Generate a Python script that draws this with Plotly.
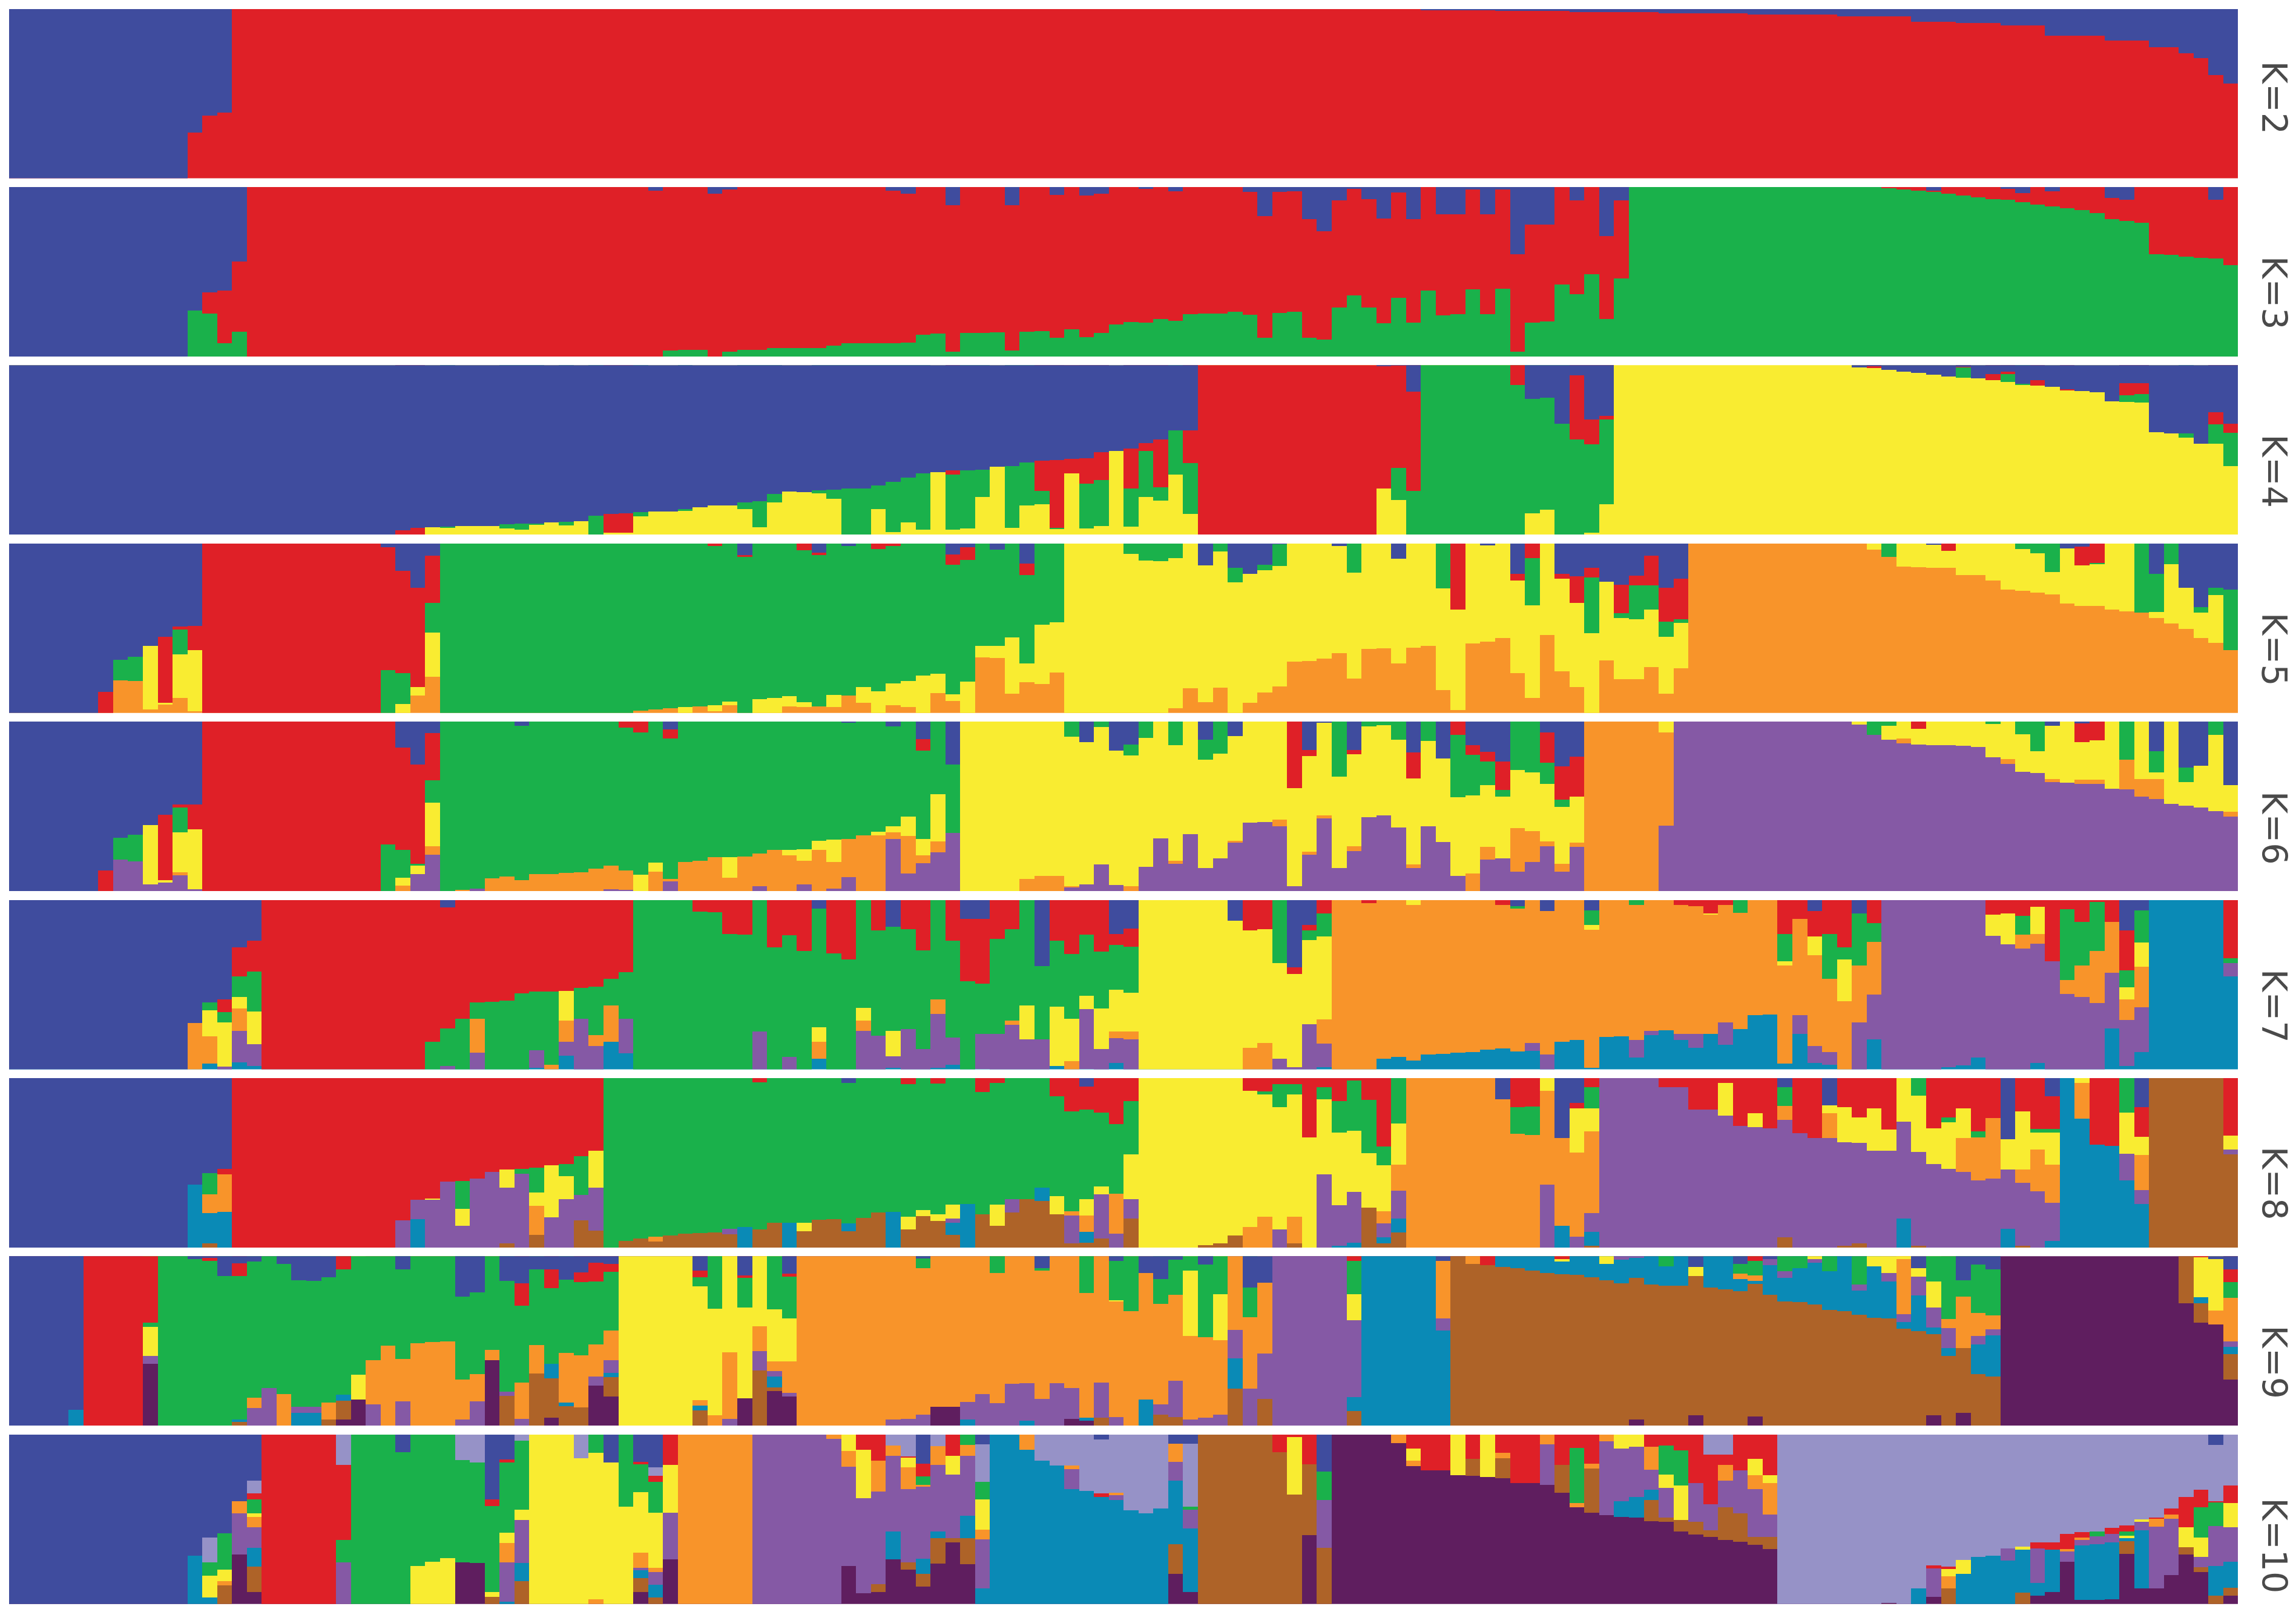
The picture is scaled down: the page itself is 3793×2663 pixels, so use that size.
import plotly.graph_objects as go

# Each list: lower edge of that colour band in each of 150 columns, in percent of the
# panel height measured from the panel's top (0 = colour absent from that column).
COLORS = {"blue": "#3F4C9E", "lav": "#9692C7", "red": "#DF2027", "green": "#1AB14B", "yellow": "#F9EC31",
          "orange": "#F8942A", "purple": "#8559A5", "teal": "#0A8AB6", "brown": "#AE6328", "dark": "#5F1E5F"}

K2_blue = [100]*12+[73,63,61]+[0]*80+[.4]*5+[1]*5+[1.8]*6+[2.6]*6+[3.3]*6+[4.3]*5+[7.5]*3+[8.2]*3+[9.5]*3+[15.8]*4+[18.5]*3+[22.5]*2+[26,29,39,44]
K2_red = [100]*150

K3_blue = [100]*12+[73,62,61,44]+[0]*27+[2]+[0]*3+[4,1.6]+[0]*10+[2,4,0,0,10.7]+[0]*3+[10.7,0,0,4.6,0,5,4,0,0,1,0,2.5]+[0]*4+[3,17,3,2.5,19,26,8,1,7,18.5,3.3,19,0,16,16,1.4,16,1.4,39.6,22,22,0,8,0,28.8,8]+[0]*20+[2.3]+[0]*4+[1,3.5,0,2.5]+[0]*3+[6.4,7.4]+[0]*5+[7.4,0]
K3_red = [0]*13+[74.5,92.3,85.4]+[100]*28+[96.6,96,96,100,97.3,96,96,95,95,95,95,93.5,92.3,92.3,92.3,92.3,91.7,87,86.3,97,86.2,86.2,85.8,96.3,85.4,85,88.8,83.8,88.7,86.2,81,79.5,80,78,79,75,74.5,74.5,73.5,75.5,89,74.3,73.5,89,90,71,64,71,80.5,65.5,80,61,75.6,75,60.5,75,60,97.3,80,79.3,57.5,63.3,51.3,77.7,54]+[0]*17+[.5,1.5,2,3,4,5,6,7,7.5,8.8,10.4,11.3,12.6,13.7,15.3,19,20,21,39.5,40,41,41.8,42,46]
K3_green = [100]*150

K4_blue = [100]*26+[97.5,96,95.8,95.4,95,95,95,94,93.7,93.4,93,92.6,92,89,87.7,87.4,86.7,86.3,86.3,85,84,83,83,81,80.5,76,74.6,75,73.8,73.5,73,73,71,69,66.4,64,63.2,62,62,61.7,60,59.6,57.6,56.4,56,55.5,55,51.4,50.7,49.3,46,44,38.5,38.5]+[0]*12+[.5,.3,15.8]+[0]*7+[20,19.4,34.6,6,32,30]+[0]*16+[1.5,.5,3,3.8,4.6,5.6,6.8,1,8,5.3,4,11,9,13,14.2,15.3,16,21.6,10.7,10.7,39.5,40.4,40.4,46.6,28,34.7]
K4_red = [0]*26+[100,100]+[0]*12+[99,98.8]+[0]*21+[64.6]+[0]*5+[74.3,96,64,70,68,0,72.8,50.7,72,0,58]+[100]*12+[73,60.6,74.3]+[0]*6+[11.7,0,0,0,44,46.7,32]+[0]*17+[1.8]+[0]*5+[1.3,0,9,5.5,0,12,0,14.9,0,0,0,18,17,0,0,0,0,35,40]
K4_green = [0]*29+[96,0,0,0,96.5,97,94.4,0,94.6,0,100,0,0,89.2,0,0,86,0,0,0,85,95.8,81,0,0,75.7,79,100,100,85,98.5,93,97,0,97,96.6,78,0,96,82.8,82,96.7,0,96.5,95,0,95.5,78,80,64.6,88]+[0]*13+[79.6]+[100]*8+[87.6,85.5,100,100,99,82]+[0]*23+[7.4,0,0,10,11.7]+[0]*6+[21.7,22,0,0,43,0,46.6,59.6]
K4_yellow = [100]*150

K5_blue = [100]*6+[87.6,68.6,66.8,60.4,55,49,48.5]+[0]*12+[2,16,26,7]+[0]*20+[6.8]+[0]*4+[5.3,0,1.6]+[0]*6+[6.4,2.3,0,3.4,0,11.9]+[0]*11+[12.8,0,14.3,17.8,12.6,.2,0,0,0,1.4,0,0,0,8.9]+[0]*5+[1.2,0,18,0,0,18,19.4,14.2,22.4,24.2,19,7,26.2,20.8]+[0]*16+[.7]+[0]*8+[3,1.8,0,0,0,0,17.9,0,26,37.6,26.2,27]
K5_red = [0]*6+[100,0,0,0,93.9,50.8,63]+[100]*12+[74.7,76.4,84.6,35]+[0]*18+[1.6,0,7.8,0,0,0,4,6.7,0,0,0,3.1,1.4,0,0,0,12.6,9.6,0,0,0,18.7]+[0]*28+[39,0,0,0,21.9,8.5,0,20.8,35,20,0,41,24.6,24.6,46,44.7]+[0]*17+[4.4]+[0]*8+[12.8,11.6]+[0]*9
K5_green = [0]*7+[80.6,81,0,0,65.4,0]+[0]*12+[100,94.8,0,52.6]+[100]*13+[98.5,98,97.3,96.3,96.2,95.2,93.2,100,91.8,91,90,93.4,96,89.2,89.8,84.8,87,82.5,81,78,76.7,88.8,81.6,60.4,60.5,55.3,70.6,48,46.4,0,0,0,0,6,10,10.2,8.6,0,0,4.8,23,0,15.6,13.2,0,0,0,0,17,0,0,0,0,0,26.5,0,0,0,0,0,36.5,0,0,0,52.9,0,44,44.7,39,55,46.7]+[0]*13+[8]+[0]*8+[3.1,5.7,16.7,0,13,12,0,0,40.6,40.4,12,0,40.6,30.2,62.7]
K5_yellow = [0]*9+[98,95,91,98.8]+[0]*13+[100,89.5,78.5]+[0]*16+[100,0,99,95.5,0,100,100,96,96.5,0,96.3,0,93.8,100,95.5,96.3,100,88.2,92.9,100,67.3,67.6,88.4,81.8,83,76,100,100,100,100,100,100,100,97,85.4,93.4,85,100,94,87.8,84.3,69.8,69.4,68,64.5,79.6,62,61.9,70.6,61.6,60.4,86.3,98.2,58.8,57.8,55.6,76.6,91,54,75.4,84.8,100,69,80,80,73,88.7,73.6]+[0]*12+[3.7,0,13.5,13.9,14.3,14.3,18.5,18.5,21.9,27.3,28,29,30,35.5,36.7,36.7,39,40,0,44,47,50.4,55.8,58.6,0]
K5_orange = [100]*150

K6_blue = [100]*6+[87.7,68.5,66.9,61,55,49,48.8]+[0]*13+[15.3,25.4,6.7]+[0]*5+[2.6]+[0]*9+[4.5]+[0]*11+[.5,0,0,2.9,0,10.5,0,25.4]+[0]*8+[12.2,0,17,13.5,0,0,0,0,10.8,0,8.5,0,0,0,0,16.7,.8,0,16.7,0,0,0,18.3,0,21.8,0,13.8,17.9,23.7,0,0,6.4,26.3,20.7]+[0]*31+[2.6,0,1.2,0,0,0,0,17.6,0,27,25.9,0,37.5]
K6_red = [0]*6+[100,0,0,0,93.7,50.7,63.5]+[100]*12+[72.4,75.8,84,34.7]+[0]*12+[3.6,6.4,0,10]+[0]*16+[17]+[0]*24+[39.3,20.4,0,0,19.3,0,0,0,33.7,0,0,8,19.7,23.5,40.2,0,0,24.4,46,44.3]+[0]*22+[4.4]+[0]*10+[12.2,11.2]+[0]*9
K6_green = [0]*7+[81.5,82.4,0,0,65.5,0]+[0]*12+[100,92,85,48,100,99.3,98.6,92.6,91.6,93.6,90,90,89.4,88.8,86.9,85,88,90.4,83.3,93,82.8,82,80,80,79.6,78,75.8,75.8,75.4,70.3,69.6,69.4,67,65,61.8,56.2,69.4,43,65.8]+[0]*7+[9,0,3.3,0,20,9.8,0,13.8,0,22.4,19]+[0]*7+[32.4,0,2.9,2,10.8,0,11.5,0,44.5,43.4,37.6,44.3,28.6,30,36.8,50.2,0]+[0]*19+[8,2.6]+[0]*6+[1.6,0,7.4,17.6]+[0]*5+[22.4,0,30,0,35.7,0,7.8,0]
K6_yellow = [0]*9+[96,95,89,99]+[0]*13+[96.7,90,73.5]+[0]*13+[100,88.5,0,0,0,0,92.2,0,0,0,78.8,82.2,75.8,82.9,0,0,67,65.5,67.6,79,70.7,0,100,100,100,100,92.9,91,91,97,96,84.3,96.3,97,85.6,69,82.2,66.6,86.3,80.8,70.3,59.6,59.4,58,97,76.7,55.4,86.6,73.5,56.5,55.5,62.4,84.3,61.8,71,91,89.5,74,80.6,63,64.6,70.7,84,71.3]+[0]*5+[6.3]+[0]*12+[1.9,0,10.8,10,13.5,13.8,13.8,14.4,15,21,22,29.7,30.4,33.8,36,34.3,34.3,39.8,0,34,34,48.4,49.8,50.8,53,53.2]
K6_orange = [0]*11+[90.8]+[0]*14+[100,0,78.5,0,100,0]+[100]*8+[98.8,99.3,0,100,94.4,100,100,100,100,100,97,100,100,96,100,98.4,91.7,100,100,69.3,89.6,83.7,77,0,0,0,0,0,100,100,100,98,0,0,0,100,0,0,83.9,0,0,0,71.3,0,0,61.7,0,78.5,57.2,0,76.6,0,0,0,86.3,0,0,0,100,81.3,0,88.5,82.9,73.7,88.5,74,100,100,100,100,100,61.5]+[0]*15+[13]+[0]*6+[25,0,0,35.8,0,36.8,36.8,0,40,44.3,45.7,0,0,0,0,56]
K6_purple = [100]*150

K7_blue = [100]*12+[72.6,60.5,58.6,28,24]+[0]*12+[4.4]+[0]*24+[4.9]+[0]*4+[15.8]+[0]*4+[11,11,0,0,0,39,0,0,0,0,19.9,16.8]+[0]*6+[12.3,0,0,0,39.5,14.8]+[0]*13+[3.6,0,6.6,0,0,5.9]+[0]*14+[6.4,0,0,7.8]+[0]*17+[17.8,6]+[0]*6
K7_red = [0]*14+[66,45,42]+[100]*11+[83.4,75.6,70,60.5,60,59.3,55,54,54,53.4,51.8,51,46.6,42.5,0,0,0,0,6.8,7,19.9,20.5,0,28,20.8,29.9,0,31.5,35,0,18,0,17,29.7,0,24,48,49.3,23,17,0,0,24,31.8,20.5,30.4,26.4,27.4]+[0]*7+[17.8,17,0,43.6,17.8,7.8,0,0,1.8]+[0]*8+[2.7]+[0]*11+[2.7,3.7,7.8,2.7,0,0,0,19.9,11.2,21.6,20,28,0,13.7]+[0]*7+[8.5,7.9,9.3,3.8,35.9,5.5,12.7,1,12.7,41.5]+[0]*6+[34.2]
K7_green = [0]*13+[65,72.3,57,65.8]+[0]*11+[100,97.9,100,70,100,100,100,88.6,97,0,70,79.7,62,70]+[100]*8+[77.4,100,92.5,100,75,100,100,63.7,80,77.3,75.9,88,58.4,81,100,79,79,71,62.3,82,63,70,56.6,64,52.7,54.6]+[0]*9+[37,0,23.6,21.6]+[0]*12+[4.9,0,0,0,0,14.8,0,0,2.7]+[0]*6+[7.5,0,0,36,0,0,46.6,35,38.6,24.7]+[0]*9+[20.3,0,0,47.3,38.6,29.9,0,51.4,25]+[0]*5+[37.3]
K7_yellow = [0]*13+[80.4,98.2,64,85]+[0]*20+[71]+[0]*16+[83.7,0,0,71,0,92]+[0]*8+[82,0,98,95,64.4,88,77.4,77.6,100]+[100]*6+[87,84.2,93.4,98.4,73.3,70.5]+[0]*5+[3]+[0]*11+[17.5]+[0]*7+[8.5]+[0]*4+[38.6,0,32.6,0,59.7]+[0]*9+[21.2,26,0,19.9]+[0]*5+[58.5,39.3]+[0]*6
K7_orange = [0]*12+[100,96.6,0,77,0]+[0]*14+[90,0,0,0,0,100,83.7,0,86,83.7,0]+[0]*12+[93.7,0,0,77,0,0,0,0,67.3,0,0,0,0,73.7,0,0,0,100,0,0,81.6,82,0]+[0]*6+[100,100,0,0,0,84.7,100,100,100,93.4,92.6,94.6,91,90.8,90,89.5,88.2,87.4,89.3,84.4,90.9,83.6,82.6,99,80.8,80.4,82.6,77,76.7,79,79,79,72,76,68,67.5,96.4,67.8,85.9,89.6,100,72,55.8]+[0]*9+[28.5,25.8,0,55.5,57.3,60.7,43,70.7,63.3]+[0]*6
K7_purple = [0]*14+[100,95.6,98]+[0]*12+[100,0,100,0,0,0,99,0,91.8,100,100,0,90.5]+[0]*8+[100,0,100,0,0,0,0,100,100,99,100,100,99,97.3,0,99.5,100,100,100,100,0,0,99.5,100,96,100,0]+[0]*8+[100,100,100,98.6]+[0]*13+[88.8,100]+[0]*5+[92.9,79.5,0,82.6,87.3,0,85.3,0,0,0,0,78.8,96,97.3,0,100,82,100,100,100,100,98.4,97.5,93,100,100,100,96,100,100,100,100,75.8,98,89.5]+[0]*5+[45]
K7_teal = [100]*150

K8_blue = [100]*12+[63,55.9,53.7]+[0]*41+[2.8]+[0]*15+[5]+[0]*27+[12.6,0,0,0,35.4,14.6]+[0]*13+[5.3,0,0,16]+[0]*11+[36,0,0,10.6]+[0]*5+[17]+[0]*6
K8_red = [0]*14+[56.7]+[100]*11+[84,71.7,71,61,60.6,59.3,55.5,54,53.5,52.8,51.6,50.8,46,42.7]+[0]*10+[2.4]+[0]*9+[3.7,0,3.3,0,0,8.1,3,0,0,0,10.6,19.7,18.7,20.3,27.2,13.6]+[0]*7+[7.5,8,3.5,3.5,35,5.5,13.6,1.4,13,40.2]+[0]*8+[17,16.7,0,0,17.7,5.3,0,0,0,0,5.5,5.5,18.7,18.7,3,28.3,20.7,29.5,0,32.5,35.4,0,17,23.2,17.7,30.5,0,0,29.5,23.2,17.7,31.3,23.4,0,19.7,29.9,29.9,0,0,39.4,40,0,34.6]+[0]*5+[34.1]
K8_green = [0]*13+[68.5]+[0]*16+[77.2,0,0,0,56.5,67.5,0,57.7,69,0,100,96,94.7,93.7,93,91.9,91.3,90.9,88.8,87.8,89.4,85.4,85.2,85.2,83.7,83.3,85.8,82.5,79.3,78.9,81.7,78,80.3,74.6,74.4,80.3,74.6,71.5,71.5,64.6,69.5,78.5,71.5,63.8,68.3,45]+[0]*8+[9.5,17,9.5,0,12.6,32,30.9,44.3,51.6,26.8]+[0]*7+[33,33.7,0,0,0,17.7]+[0]*12+[16.3]+[0]*8+[10.2,0,26,0,35,0,0,0,32.3,32.3,0,0,0,0,20.3]+[0]*7
K8_yellow = [0]*28+[71.7,0,87.2,0,0,64.8,0,75.4,82,71.3,0,64.6]+[0]*13+[90.4]+[0]*6+[89.4,81.3,84.3,83,0,0,87.2,0,0,0,80.5,0,80.9,68.7,0,71.5,100,100,100,100,98.6,97.4,92.7,87.8,81.7,89.4,81.7,100,56.9,75,67,76.6,78.5,51.2]+[0]*9+[7.5,0,44,31.3]+[0]*8+[22.2,0,28.9,0,0,0,0,20.7,37.8,38.2,42.7,43,25.8,43.5,50.8,53.7,35.4,0,0,54,53.9,42.3,51.2,0,3,0,0,44.7,45.5]+[0]*5+[42.3]
K8_orange = [0]*13+[79.7,79]+[0]*20+[92.5]+[0]*7+[96.3]+[0]*27+[80.9,90.7,0,91.9]+[0]*8+[100,100,0,97.4,0,0,0,0,0,85.8,66.5]+[100]*9+[63,87,93.5,79.7]+[0]*12+[24.8,0,0,35.4]+[0]*8+[55.3,60.2,59.3,0,61.8,66.7,73.6,0,24,0,0,0,65.9]+[0]*6
K8_purple = [0]*26+[100,83.3,100,100,100,100,100,97.6,100,0,100,100,84,90]+[0]*8+[92.3]+[0]*14+[85.2,0,0,0,79.3,0,0,0,97.4,0,94.5,100,82.7]+[0]*9+[100,0,0,100,99,97,0,94,83]+[0]*9+[100,0,100,90.7]+[100]*12+[94,100,100,100,99,97.4,100,100,82.7,99,100,100,100,100,100,88.8,99,100,96,0,0,0,0,60.2,74.4]+[0]*5+[45]
K8_teal = [0]*12+[100,97.6,100]+[0]*12+[100]+[0]*21+[100,0,0,100,0,0,0,90.4,0,0,100,0,0,0,92.5,100,0,0,0,0,72.6,0,0,97]+[0]*16+[100,100,0,97.6,90.9]+[0]*10+[100,0,99]+[0]*20+[100]+[0]*6+[100,0,0]+[100]*7+[0]*6
K8_brown = [100]*150

K9_blue = [100]*4+[90.8]+[0]*7+[1.8,1,11.8,4.3,3.3,0,4.5,14.3,14.5,12.4,0,0,0,0,7.7,0,0,0,23.8,21.6,0,14.5,16,8,7.7,13.8,9.8,3.9,4.5]+[0]*5+[8.5,0,0,11.4,0,0,10.4]+[0]*8+[1.5]+[0]*7+[7.3,0,0,0,0,2.8,0,10,13.4,2,0,4.9,0,0,18.5,15.7]+[0]*11+[2.9]+[0]*16+[6.5,0,0,4.5,0,1.8]+[0]*9+[7,0,0,14.3,5,7.7]+[0]*14+[1.8,7.9]
K9_red = [0]*5+[100]*4+[39.3,0,0,0,2.9,0,11.8]+[0]*6+[7.7]+[0]*11+[29.3,0,19,0,15.5,15,9.2]+[0]*5+[12.4,0,0,13,0,0,12.2]+[0]*37+[2.9]+[0]*8+[5.3]+[0]*4+[1.8]+[0]*12+[2.9]+[0]*29+[.4,0,15.5]
K9_green = [0]*9+[41.8]+[100]*5+[96.5,83.7,77.8,81.3,88.8,88.8,86.4,81.7,70,61.5,52.7,60.7,51.3,50.7,50.3,72.7,69.5,55.4,80,74.5,52.5,63.5,57,58.7,52,44]+[0]*5+[17.7,31,0,30.3,0,31.4,36.7]+[0]*8+[7,0,0,0,0,10,0,0,8.5,0,0,21.8,0,25.9,32.4,0,28.3,23,8.5,48,22.4,0,36]+[0]*6+[22.4]+[0]*20+[6,0,0,0,0,10.2,11.4,0,9,7.3,0,9,0,16.7,0,0,0,0,15,37,23.8,33.4,35]+[0]*15+[24.6]
K9_yellow = [0]*9+[59]+[0]*13+[84.7]+[0]*17+[100]*5+[85,94,56.8,84,41.5,62.3,62]+[0]*21+[26.9,0,0,0,0,47.3,0,49.7]+[0]*8+[37.9]+[0]*13+[3.3,0,0,4.5]+[0]*5+[11.8]+[0]*7+[1.8,0,0,0,5.9,10,1.8,12,30.3]+[0]*17+[24.2,32.2,0]
K9_orange = [0]*16+[89.8,0,100,0,0,96.5,0,0,87.4,100,85.7,100,100,100,96.5,85.7,61.3,0,96,69.2,0,86.6,89.4,71,61.5]+[0]*5+[88.2,100,96,0,56.2,67.8,80.7]+[100]*6+[96.5,96,93.5,89,89,86,81.5,86.8,75.4,75,84.3,75,77.8,95.5,74.5,95,100,84.7,87.4,73.5,96.5,95.5,93.5,43.6,78.2,57.4]+[0]*11+[36.7,0,4.5]+[0]*17+[13.5,14.7]+[0]*9+[34.2,0,0,42.6,54.4,47.2,43.2]+[0]*14+[40.5,50.3]
K9_purple = [0]*9+[63.7]+[0]*6+[100,100,0,92.6,92.6,0,0,0,100,0,100,0,0,0,100,100,0,82.5,100,0,0,0,0,76.6,69]+[0]*7+[100,0,67.4,71,82.7]+[0]*6+[100,100,100,0,0,96.5,100,100,100,97,100,100,96,0,95.5,100,0,0,93.5,95,100,100,100,60.5,100,84.3]+[100]*5+[83.3]+[0]*5+[44]+[0]*11+[2,1]+[0]*8+[5.3,13,0,4,0,0,20.4,0,15,38.9,23.2,42,54.4,0,52,46.8]+[0]*15+[53.4]
K9_teal = [0]*4+[100]+[0]*10+[98,0,0,0,100,100,0,85.5]+[0]*13+[72.3,88.4,0,0,71.3]+[0]*5+[91.2,0,0,0,0,77.6]+[0]*12+[100,0,0,0,100,0,0,0,97,0,0,0,100]+[0]*5+[78.2]+[0]*7+[91.4]+[100]*6+[0,0,0,6.5,7.3,8.5,10,10.6,11,12.4,14.3,16,13,16.7,17.5,17.5,0,18.7,19.6,20.8,16.3,22.8,26.9,27.3,28.5,31.8,32.6,34.6,36.3,36.7,42.8,44.4,46,58.9,0,69.7,70.9]+[0]*13+[27.7,0,58]
K9_brown = [0]*15+[100]+[0]*5+[100,96.5]+[0]*10+[100,0,100,95.3,100,100,0,82.7]+[0]*5+[100,0,0,0,100,79.6]+[0]*21+[100,0,0,0,100,100,0,0,0,100,0,100]+[0]*5+[100]+[0]*6+[100]*12+[96.5,100,100,100,94,100,100,100,94.7]+[100]*11+[94,100,92.6,100,100]+[0]*12+[27.9,39.3,0,72.7]
K9_dark = [100]*150

K10_blue = [100]*12+[71.5,60.7,58.2,39.3,27]+[0]*9+[10.4]+[0]*5+[38.3,14.5]+[0]*6+[16.5,0,15.9,19.3]+[0]*17+[17.3,0,0,0,5.7]+[0]*7+[3,0,0,0,0,5.3,5.3]+[0]*8+[21.8]+[0]*59+[6,0]
K10_lav = [0]*13+[75.4,0,0,34.6]+[0]*5+[17.9]+[0]*7+[14.9,16.3,0,0,3.7,0,0,0,13.8,0,0,0,0,24.4]+[0]*15+[6.3,12.8,0,6.7,0,0,28,0,0,0,15.3,18.3,18.3,33.2,34.6,34.2,44.8,46.4,43.4,0,42.4]+[0]*34+[11.8,11.8,0,0,0]+[100]*7+[99.4,100,90.8,77,78,74,72,71.3,67,66.2,63.7,63.7,58.7,57.6,57,55,53.6,50,48.9,43.4,36.7,32.6,39.3,30]
K10_red = [0]*16+[38.3]+[100]*5+[62]+[0]*9+[42,16.3]+[0]*8+[17.5,28,17.9]+[0]*12+[9,15.3,0,13.5,24.6,0,12.4]+[0]*9+[36.7]+[0]*11+[10.4,1.6,17.5]+[0]*6+[8.1,21,21,0,14.3,0,10.8,28.5,28.5,0,17.9,7.7,17.3,0,0,0,7.3,6.3,9.4,28.5,41,17.9,21,14.3,24]+[0]*10+[79,79.4]+[0]*5+[67,67.8,67.4,60.7,0,58.7,57,0,49.7,47,54.8,42.8,40,40.3]
K10_green = [0]*13+[83.3,79.8,0,46.4]+[0]*5+[75.4,100,100,100,100,77.6,75,73,75.2,75.8,92.7,58,44.4,0,0,0,0,10.6,0,42.4,33.8,46]+[0]*17+[29.7,0,0,6.1,38.3]+[0]*13+[44.4]+[0]*8+[38.7]+[0]*16+[40.3]+[0]*5+[23.4,30]+[0]*27+[59.9,0,59.7,0,0,0,0,60.7,54,0]
K10_yellow = [0]*13+[96,86.6,0,48.5]+[0]*10+[100,100,100,0,0,95.7,64,50.5,100,100,100,100,97,100,100,69.5,78.4,46]+[0]*11+[9.8,37.5,0,0,19.3,0,0,23.6,0,56]+[0]*20+[35.4]+[0]*7+[15.3,0,0,24,0,25]+[0]*8+[8.1,7.1,0,31.6,50.5,0,0,0,0,24,28.7]+[0]*11+[83.5,82,0,0,0,68]+[0]*6+[61,51.5,0,0,66.4,72.3,0,54.6]
K10_orange = [0]*14+[88.8,46.4,54.6]+[0]*16+[75.4]+[0]*5+[100,0,0,78.6,81,0]+[100]*5+[0]*5+[2.4,19,0,33.6,12.4,32.2,30.8,17.9,0,12.4,61.7,0,0,8.8,0,0,20.4,0,0,35.6,0,0,0,15.9]+[0]*14+[5,18.7]+[0]*5+[13.8,0,0,5.7,0,42.8,20,4,0,0,20.6,0,0,0,0,27,0,32.2,47.3]+[0]*11+[90.6]+[0]*7+[69,62.3,0,0,0,0,54.2,49.5,0,0,0,0]
K10_purple = [0]*15+[70.7,66.8]+[0]*5+[100]+[0]*10+[98.6,75.6]+[0]*7+[80,88.6,73.7]+[0]*5+[100]*6+[77.6,93.7,88.2,57.2,75.4,73.3,57.2,61,48,90.6]+[0]*5+[32.2,0,0,38.7,0,0,0,27.1,55.2]+[0]*8+[66.8]+[0]*14+[29.7,0,0,0,47.5,39.3,36.9,32.6,48.9,0,51.5,56.5,42.8,46.4,60.5,60.5]+[0]*10+[95.7,0,0,0,0,74.3,0,87.6,0,75,65.2,64.8,63.7,0,56.6,90.6,82.7,0,78.2,77.4,75]
K10_teal = [0]*12+[100,100,0,0,78]+[0]*16+[100,86.4]+[0]*7+[84.5,96]+[0]*15+[73.5,0,82,61,0,61]+[100]*13+[64.8,92.7]+[0]*28+[48.5,49,38.7]+[0]*17+[100,0,0,100,100,100,100,93.3,95,92.7,0,97.5,97.5,97,63,90.6,0,0,0,0,95,90.2]
K10_brown = [0]*14+[100,0,92.9]+[0]*15+[100,0,100]+[0]*7+[92.7,100]+[0]*14+[92.9,0,79.6,89.8,76,63.7,76.6]+[0]*13+[82,0]+[100]*7+[59.3,100]+[0]*9+[24.4,0,25.7,0,0,0,34.2,0,46,0,0,0,51,51.6,57.2,59,60.5,62.3,63.1,65,67.6]+[0]*11+[100,0,0,0,0,100]+[0]*6+[70.5,0,0,0,70.8,81,100,95]
K10_dark = [100]*150

PANELS = [
    ("K=2", [("blue", K2_blue), ("red", K2_red)]),
    ("K=3", [("blue", K3_blue), ("red", K3_red), ("green", K3_green)]),
    ("K=4", [("blue", K4_blue), ("red", K4_red), ("green", K4_green), ("yellow", K4_yellow)]),
    ("K=5", [("blue", K5_blue), ("red", K5_red), ("green", K5_green), ("yellow", K5_yellow), ("orange", K5_orange)]),
    ("K=6", [("blue", K6_blue), ("red", K6_red), ("green", K6_green), ("yellow", K6_yellow), ("orange", K6_orange), ("purple", K6_purple)]),
    ("K=7", [("blue", K7_blue), ("red", K7_red), ("green", K7_green), ("yellow", K7_yellow), ("orange", K7_orange), ("purple", K7_purple), ("teal", K7_teal)]),
    ("K=8", [("blue", K8_blue), ("red", K8_red), ("green", K8_green), ("yellow", K8_yellow), ("orange", K8_orange), ("purple", K8_purple), ("teal", K8_teal), ("brown", K8_brown)]),
    ("K=9", [("blue", K9_blue), ("red", K9_red), ("green", K9_green), ("yellow", K9_yellow), ("orange", K9_orange), ("purple", K9_purple), ("teal", K9_teal), ("brown", K9_brown), ("dark", K9_dark)]),
    ("K=10", [("blue", K10_blue), ("lav", K10_lav), ("red", K10_red), ("green", K10_green), ("yellow", K10_yellow), ("orange", K10_orange), ("purple", K10_purple), ("teal", K10_teal), ("brown", K10_brown), ("dark", K10_dark)]),
]

bad = [(lab, name, len(vals)) for lab, ser in PANELS for name, vals in ser if len(vals) != 150]
if bad:
    raise SystemExit("bad lengths: " + repr(bad))

W, H = 3793, 2663
LEFT, RIGHT = 14.5, 3697
TOP, PANEL_H, STEP = 14.5, 280, 294.4
LABEL_Y = [160.7, 483, 777.6, 1072, 1367, 1661, 1954, 2249.5, 2553.6]
columns = list(range(150))

fig = go.Figure()
layout = dict(width=W, height=H, margin=dict(l=0, r=0, t=0, b=0), paper_bgcolor="white", plot_bgcolor="white",
              barmode="overlay", bargap=0, showlegend=False, annotations=[])
for i, (label, series) in enumerate(PANELS):
    suffix = "" if i == 0 else str(i + 1)
    y0 = TOP + i * STEP
    layout["xaxis" + suffix] = dict(domain=[LEFT / W, RIGHT / W], range=[-0.5, 149.5], visible=False,
                                    anchor="y" + suffix, fixedrange=True)
    layout["yaxis" + suffix] = dict(domain=[1 - (y0 + PANEL_H) / H, 1 - y0 / H], range=[100, 0], visible=False,
                                    anchor="x" + suffix, fixedrange=True)
    for name, vals in reversed(series):
        fig.add_trace(go.Bar(x=columns, y=vals, name=name, xaxis="x" + suffix, yaxis="y" + suffix,
                             marker=dict(color=COLORS[name], line=dict(width=0))))
    layout["annotations"].append(dict(text=label, xref="paper", yref="paper", x=3757 / W, y=1 - LABEL_Y[i] / H,
                                      xanchor="center", yanchor="middle", textangle=90, showarrow=False,
                                      font=dict(family="DejaVu Sans", size=57, color="#4A4A4A")))
fig.update_layout(**layout)
fig.write_html("out.html", config={"displayModeBar": False}, post_script="document.body.style.margin='0';")
